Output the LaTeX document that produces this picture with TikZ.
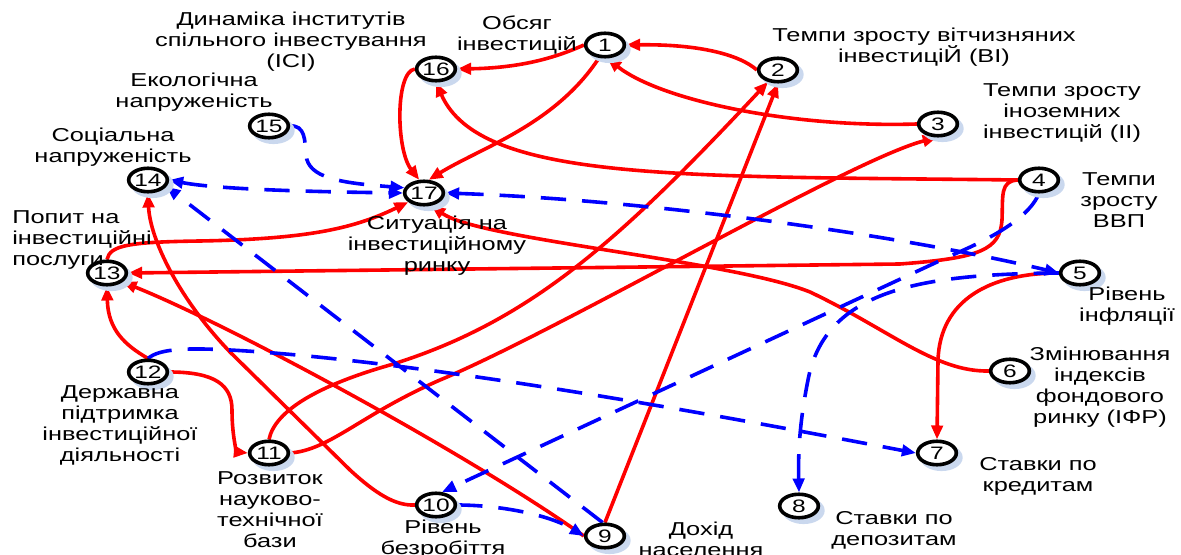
\documentclass[tikz,border=0pt]{standalone}
\usepackage{fontspec}
\setmainfont{Liberation Sans}[FakeStretch=1.36]
\usetikzlibrary{arrows.meta,shapes.geometric}
\definecolor{shadowblue}{RGB}{202,216,238}
\pgfdeclarelayer{links}
\pgfsetlayers{links,main}
\tikzset{
  >={Triangle[length=10.5pt,width=8.5pt]},
  factor/.style={ellipse, draw=black, line width=2.7pt, fill=white,
    minimum width=29pt, minimum height=17.6pt, inner sep=0pt,
    font=\fontsize{13.5}{13.5}\selectfont,
    preaction={fill=shadowblue, draw=shadowblue,
      transform canvas={shift={(3.4pt,-3.4pt)}}}},
  caption/.style={align=center, inner sep=0pt,
    font=\fontsize{14}{15.75}\selectfont},
  plusedge/.style={red, line width=2.7pt, ->},
  minusedge/.style={blue, line width=2.7pt, dash pattern=on 19pt off 12pt, ->},
}
\begin{document}
\begin{tikzpicture}[x=0.75pt, y=-0.75pt]
\useasboundingbox (0,0) rectangle (1181,555);

% factors
\node[factor] (n1)  at (605,45)  {1};
\node[factor] (n2)  at (778,70)  {2};
\node[factor] (n3)  at (938,124) {3};
\node[factor] (n4)  at (1039,180) {4};
\node[factor] (n5)  at (1080,273) {5};
\node[factor] (n6)  at (1010,371) {6};
\node[factor] (n7)  at (937,453) {7};
\node[factor] (n8)  at (799,506) {8};
\node[factor] (n9)  at (605,536) {9};
\node[factor] (n10) at (436,505) {10};
\node[factor] (n11) at (269,453) {11};
\node[factor] (n12) at (148,372) {12};
\node[factor] (n13) at (107,273) {13};
\node[factor] (n14) at (148,180) {14};
\node[factor] (n15) at (269,126) {15};
\node[factor] (n16) at (436,69)  {16};
\node[factor] (n17) at (424,193) {17};

% captions
\node[caption] (c16) at (291,42)  {Динаміка інститутів\\спільного інвестування\\(ІСІ)};
\node[caption] (c1)  at (517,35)  {Обсяг\\інвестицій};
\node[caption] (c2)  at (924,47)  {Темпи зросту вітчизняних\\інвестиціЙ (ВІ)};
\node[caption] (c3)  at (1062,113) {Темпи зросту\\іноземних\\інвестицій (ІІ)};
\node[caption] (c4)  at (1119,200) {Темпи\\зросту\\ВВП};
\node[caption] (c5)  at (1127,306) {Рівень\\інфляції};
\node[caption] (c6)  at (1100,387) {Змінювання\\індексів\\фондового\\ринку (ІФР)};
\node[caption] (c7)  at (1038,476) {Ставки по\\кредитам};
\node[caption] (c8)  at (894,530)  {Ставки по\\депозитам};
\node[caption] (c9)  at (701,539)  {Дохід\\населення};
\node[caption] (c10) at (443,539)  {Рівень\\безробіття};
\node[caption] (c11) at (270,510)  {Розвиток\\науково-\\технічної\\бази};
\node[caption] (c12) at (120,425)  {Державна\\підтримка\\інвестиційної\\діяльності};
\node[caption, anchor=west, align=left] (c13) at (12,240) {Попит на\\інвестиційні\\послуги};
\node[caption] (c14) at (113,147)  {Соціальна\\напруженість};
\node[caption] (c15) at (194,92)   {Екологічна\\напруженість};
\node[caption] (c17) at (437,246)  {Ситуація на\\інвестиційному\\ринку};

\begin{pgfonlayer}{links}
% positive influences
\draw[plusedge] (n2.west) .. controls (740,55) and (700,44) .. (n1.east);
\draw[plusedge] (n1.west) .. controls (555,58) and (520,68) .. (n16.east);
\draw[plusedge] (n1.245) .. controls (555,125) and (480,148) .. (n17.70);
\draw[plusedge] (n3.west) .. controls (790,128) and (660,100) .. (n1.-80);
\draw[plusedge] (n16.west) .. controls (395,72) and (396,150) .. (n17.110);
\draw[plusedge] (n4.west) .. controls (680,176) and (480,182) .. (n16.south);
\draw[plusedge] (n4.west) .. controls (1000,181) and (1003,195) .. (1002,220)
  .. controls (1000,250) and (980,258) .. (900,264) -- (n13.east);
\draw[plusedge] (n6.west) .. controls (935,372) and (890,330) .. (810,292)
  .. controls (730,260) and (480,240) .. (n17.-60);
\draw[plusedge] (n5.west) .. controls (990,273) and (940,300) .. (938,360) -- (n7.north);
\draw[plusedge] (n11.north) .. controls (275,410) and (320,385) .. (390,365)
  .. controls (530,322) and (620,240) .. (n2.230);
\draw[plusedge] (n11.east) .. controls (330,450) and (360,415) .. (440,380)
  .. controls (560,330) and (850,160) .. (n3.265);
\draw[plusedge] (n9.north) -- (n2.south);
\draw[plusedge] (n13.north) .. controls (110,245) and (130,242) .. (200,241)
  .. controls (310,239) and (355,228) .. (n17.210);
\draw[plusedge] (n12.north) .. controls (125,345) and (108,330) .. (n13.south);
\draw[plusedge] (n12.east) .. controls (215,372) and (232,385) .. (232,410)
  .. controls (232,440) and (238,452) .. (n11.west);
\draw[plusedge] (n10.west) .. controls (395,506) and (375,493) .. (350,470) -- (230,352)
  .. controls (180,300) and (150,240) .. (n14.south);
\draw[plusedge] (n9.west) .. controls (470,455) and (230,325) .. (n13.-30);

% negative influences
\draw[minusedge] (n15.east) .. controls (305,125) and (305,140) .. (306,155)
  .. controls (308,178) and (340,183) .. (n17.165);
\draw[minusedge, <->] (n14.east) .. controls (220,190) and (330,192) .. (n17.west);
\draw[minusedge] (n9.100) -- (n14.-20);
\draw[minusedge, <->] (n17.east) .. controls (650,200) and (900,235) .. (n5.west);
\draw[minusedge] (n5.west) .. controls (920,274) and (825,290) .. (808,380)
  .. controls (800,420) and (798,450) .. (n8.north);
\draw[minusedge] (n4.south) .. controls (1030,215) and (1000,235) .. (950,256) -- (n10.65);
\draw[minusedge] (n12.north) .. controls (160,348) and (190,348) .. (230,350)
  .. controls (450,362) and (820,435) .. (n7.west);
\draw[minusedge] (n10.east) .. controls (500,505) and (550,515) .. (n9.west);
\end{pgfonlayer}
\end{tikzpicture}
\end{document}
